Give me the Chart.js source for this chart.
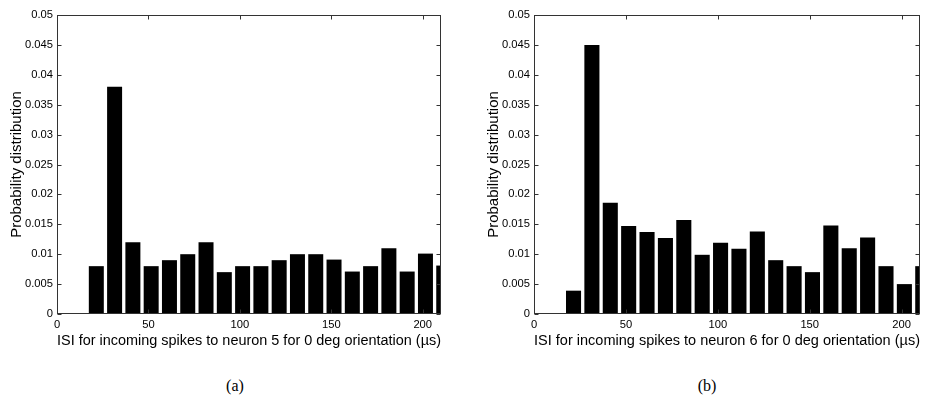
<!DOCTYPE html>
<html>
<head>
<meta charset="utf-8">
<script src="https://cdn.jsdelivr.net/npm/chart.js@4/dist/chart.umd.min.js"></script>
<style>
  html, body { margin: 0; padding: 0; background: #fff; width: 935px; height: 412px; overflow: hidden; }
  canvas { position: absolute; top: 0; }
  #chartA { left: 0; }
  #chartB { left: 477px; }
  .cap { position: absolute; top: 386px; font-family: "Liberation Serif", "DejaVu Serif", serif; font-size: 16px; color: #000; transform: translate(-50%, -50%); }
</style>
</head>
<body>
<canvas id="chartA" width="470" height="360"></canvas>
<canvas id="chartB" width="458" height="360"></canvas>
<div class="cap" style="left:235px">(a)</div>
<div class="cap" style="left:707px">(b)</div>
<script>
// ISI histogram bin centres (µs)
const binCenters = [21.5, 31.5, 41.5, 51.5, 61.5, 71.5, 81.5, 91.5, 101.5, 111.5,
                    121.5, 131.5, 141.5, 151.5, 161.5, 171.5, 181.5, 191.5, 201.5, 211.5];

// Probability per bin, neuron 5 and neuron 6 (0 deg orientation)
const neuron5 = [0.008, 0.038, 0.012, 0.008, 0.009, 0.010, 0.012, 0.007, 0.008, 0.008,
                 0.009, 0.010, 0.010, 0.0091, 0.0071, 0.008, 0.011, 0.0071, 0.0101, 0.0081];
const neuron6 = [0.0039, 0.045, 0.0186, 0.0147, 0.0137, 0.0127, 0.0157, 0.0099, 0.0119, 0.0109,
                 0.0138, 0.009, 0.008, 0.007, 0.0148, 0.011, 0.0128, 0.008, 0.005, 0.008];

// Axis ticks
const xTicks = [0, 50, 100, 150, 200];
const yTicks = [0, 0.005, 0.01, 0.015, 0.02, 0.025, 0.03, 0.035, 0.04, 0.045, 0.05];
const yTickLabels = ['0', '0.005', '0.01', '0.015', '0.02', '0.025', '0.03', '0.035', '0.04', '0.045', '0.05'];

const FONT = '"Liberation Sans", Arial, sans-serif';

// Boxed axes with short inward tick marks on all four sides
const boxFrame = {
  id: 'boxFrame',
  afterDraw(chart) {
    const ctx = chart.ctx;
    const a = chart.chartArea;
    const x = chart.scales.x, y = chart.scales.y;
    const L = Math.round(a.left) + 0.5, R = Math.round(a.right) - 0.5;
    const T = Math.round(a.top) + 0.5, B = Math.round(a.bottom) - 0.5;
    const len = 4;
    ctx.save();
    ctx.strokeStyle = '#333';
    ctx.lineWidth = 1;
    ctx.strokeRect(L, T, R - L, B - T);
    ctx.beginPath();
    xTicks.forEach(v => {
      const px = Math.round(x.getPixelForValue(v)) + 0.5;
      ctx.moveTo(px, B); ctx.lineTo(px, B - len);
      ctx.moveTo(px, T); ctx.lineTo(px, T + len);
    });
    yTicks.forEach(v => {
      const py = Math.round(y.getPixelForValue(v)) + 0.5;
      ctx.moveTo(L, py); ctx.lineTo(L + len, py);
      ctx.moveTo(R, py); ctx.lineTo(R - len, py);
    });
    ctx.stroke();
    ctx.restore();
  }
};

function makeChart(id, values, neuron, rightPad) {
  const points = binCenters.map((c, i) => ({ x: c, y: values[i] }));
  return new Chart(document.getElementById(id), {
    type: 'bar',
    data: {
      datasets: [{
        data: points,
        backgroundColor: '#000',
        borderWidth: 0,
        categoryPercentage: 1,
        barPercentage: 0.82
      }]
    },
    options: {
      responsive: false,
      animation: false,
      layout: { padding: { top: 15, right: rightPad, left: 0, bottom: 0 } },
      plugins: { legend: { display: false }, tooltip: { enabled: false } },
      scales: {
        x: {
          type: 'linear',
          offset: false,
          min: 0,
          max: 210,
          afterBuildTicks: s => { s.ticks = xTicks.map(v => ({ value: v })); },
          afterFit: s => { s.height = 46; },
          grid: { display: false, drawTicks: false },
          border: { display: false },
          ticks: {
            color: '#000',
            padding: 4,
            maxRotation: 0,
            font: { family: FONT, size: 11.2 },
            callback: v => String(v)
          },
          title: {
            display: true,
            text: 'ISI for incoming spikes to neuron ' + neuron + ' for 0 deg orientation (\u00b5s)',
            color: '#000',
            padding: { top: 0, bottom: 10 },
            font: { family: FONT, size: 15.3 }
          }
        },
        y: {
          min: 0,
          max: 0.05,
          afterBuildTicks: s => { s.ticks = yTicks.map(v => ({ value: v })); },
          afterFit: s => { s.width = 57; },
          grid: { display: false, drawTicks: false },
          border: { display: false },
          ticks: {
            color: '#000',
            padding: 4,
            font: { family: FONT, size: 11.2 },
            callback: (v, i) => yTickLabels[i]
          },
          title: {
            display: true,
            text: 'Probability distribution',
            color: '#000',
            padding: { top: 8, bottom: 0 },
            font: { family: FONT, size: 15 }
          }
        }
      }
    },
    plugins: [boxFrame]
  });
}

makeChart('chartA', neuron5, 5, 29);
makeChart('chartB', neuron6, 6, 15);
</script>
</body>
</html>
